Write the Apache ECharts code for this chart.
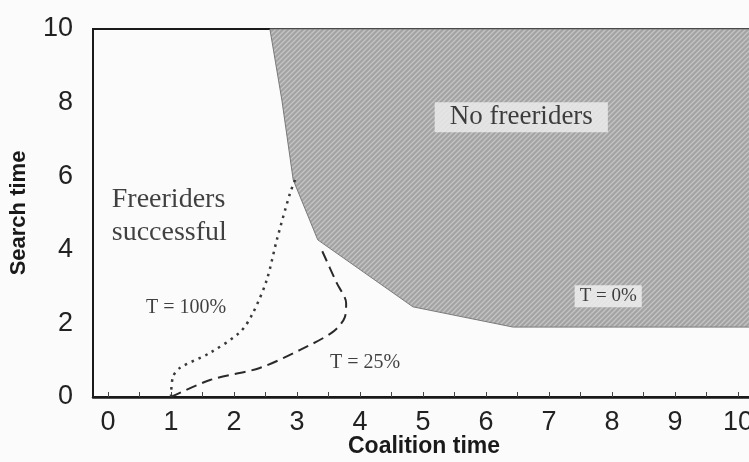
<!DOCTYPE html>
<html>
<head>
<meta charset="utf-8">
<script src="https://cdn.jsdelivr.net/npm/echarts@6/dist/echarts.min.js"></script>
<style>
  html, body { margin: 0; padding: 0; background: #fbfbfb; }
  #chart { width: 749px; height: 462px; }
</style>
</head>
<body>
<div id="chart"></div>
<script>
// axis ticks
const xTickValues = [0, 1, 2, 3, 4, 5, 6, 7, 8, 9, 10];
const xMinorTicks = [0, 0.5, 1, 1.5, 2, 2.5, 3, 3.5, 4, 4.5, 5, 5.5, 6, 6.5, 7, 7.5, 8, 8.5, 9, 9.5, 10];
const yTickValues = [0, 2, 4, 6, 8, 10];

// T = 0% boundary, shaded region "No freeriders" (closed at top right corner)
const noFreeX = [2.57, 2.76, 2.94, 3.33, 4.84, 6.43, 10.3, 10.3];
const noFreeY = [10, 8.07, 5.9, 4.27, 2.45, 1.9, 1.9, 10];

// T = 100% (dotted)
const t100X = [1.0, 1.03, 1.14, 1.62, 2.1, 2.3, 2.52, 2.68, 2.89, 2.97];
const t100Y = [0, 0.54, 0.79, 1.2, 1.77, 2.28, 3.18, 4.27, 5.54, 5.9];

// T = 25% (dashed)
const t25X = [1.0, 1.62, 2.41, 3.05, 3.57, 3.76, 3.78, 3.63, 3.37];
const t25Y = [0, 0.46, 0.79, 1.28, 1.77, 2.17, 2.55, 3.1, 4.08];

// text annotations
const noteText = ['No freeriders', 'T = 0%', 'Freeriders\nsuccessful', 'T = 100%', 'T = 25%'];
const noteX = [6.56, 7.94, 0.06, 1.24, 4.08];
const noteY = [7.6, 2.74, 4.92, 2.42, 0.92];

const zip = (xs, ys) => xs.map((x, i) => [x, ys[i]]);

// hatch pattern for the shaded area
function hatch () {
  const c = document.createElement('canvas');
  c.width = 5; c.height = 5;
  const g = c.getContext('2d');
  g.fillStyle = '#a3a3a3';
  g.fillRect(0, 0, 5, 5);
  g.strokeStyle = '#c4c4c4';
  g.lineWidth = 1.3;
  g.beginPath();
  g.moveTo(0, 5); g.lineTo(5, 0);
  g.moveTo(-1, 1); g.lineTo(1, -1);
  g.moveTo(4, 6); g.lineTo(6, 4);
  g.stroke();
  return c;
}

const noteStyles = [
  { fontSize: 27, backgroundColor: '#efefef', padding: [2, 15, 1, 15] },
  { fontSize: 19, backgroundColor: '#f2f2f2', padding: [2, 5, 1, 5] },
  { fontSize: 28, align: 'left', lineHeight: 33 },
  { fontSize: 20 },
  { fontSize: 20 }
];

let myChart = echarts.init(document.getElementById('chart'));

myChart.setOption({
  backgroundColor: '#fbfbfb',
  animation: false,
  grid: {
    left: 93,
    right: -6,
    top: 29,
    bottom: 65,
    outerBoundsMode: 'none',
    containLabel: false,
    show: true,
    borderColor: '#1a1a1a',
    borderWidth: 2
  },
  xAxis: {
    type: 'value',
    min: -0.238,
    max: 10.27,
    name: 'Coalition time',
    nameLocation: 'middle',
    nameGap: 38,
    nameMoveOverlap: false,
    nameTextStyle: { fontFamily: 'Liberation Sans', fontWeight: 'bold', fontSize: 23, color: '#1a1a1a' },
    splitLine: { show: false },
    axisLine: { onZero: false, lineStyle: { color: '#1a1a1a', width: 2.5 } },
    axisTick: { inside: true, length: 5, customValues: xMinorTicks, lineStyle: { color: '#444' } },
    axisLabel: {
      customValues: xTickValues,
      margin: 12,
      fontFamily: 'Liberation Sans',
      fontSize: 27,
      color: '#222'
    }
  },
  yAxis: {
    type: 'value',
    min: 0,
    max: 10,
    name: 'Search time',
    nameLocation: 'middle',
    nameGap: 63,
    nameMoveOverlap: false,
    nameTextStyle: { fontFamily: 'Liberation Sans', fontWeight: 'bold', fontSize: 22, color: '#1a1a1a' },
    splitLine: { show: false },
    axisLine: { show: true, onZero: false, lineStyle: { color: '#1a1a1a', width: 2 } },
    axisTick: { show: false },
    axisLabel: {
      customValues: yTickValues,
      margin: 20,
      fontFamily: 'Liberation Sans',
      fontSize: 27,
      color: '#222'
    }
  },
  series: [
    {
      name: 'No freeriders',
      type: 'custom',
      data: [0],
      z: 1,
      renderItem: (params, api) => ({
        type: 'polygon',
        shape: { points: zip(noFreeX, noFreeY).map(p => api.coord(p)) },
        style: { fill: { image: hatch(), repeat: 'repeat' }, stroke: '#7a7a7a', lineWidth: 1 }
      })
    },
    {
      name: 'T = 100%',
      type: 'line',
      symbol: 'none',
      smooth: 0.3,
      data: zip(t100X, t100Y),
      lineStyle: { color: '#3a3a3a', width: 2.5, type: [2.5, 5] }
    },
    {
      name: 'T = 25%',
      type: 'line',
      symbol: 'none',
      smooth: 0.3,
      data: zip(t25X, t25Y),
      lineStyle: { color: '#2a2a2a', width: 2, type: [11, 6] }
    },
    {
      name: 'notes',
      type: 'scatter',
      symbolSize: 0,
      z: 5,
      data: noteText.map((t, i) => ({
        value: [noteX[i], noteY[i]],
        label: Object.assign({
          show: true,
          position: 'inside',
          formatter: t,
          fontFamily: 'Liberation Serif',
          color: '#111'
        }, noteStyles[i])
      }))
    }
  ]
});

window.addEventListener('resize', () => {
  myChart.resize();
});
</script>
</body>
</html>
